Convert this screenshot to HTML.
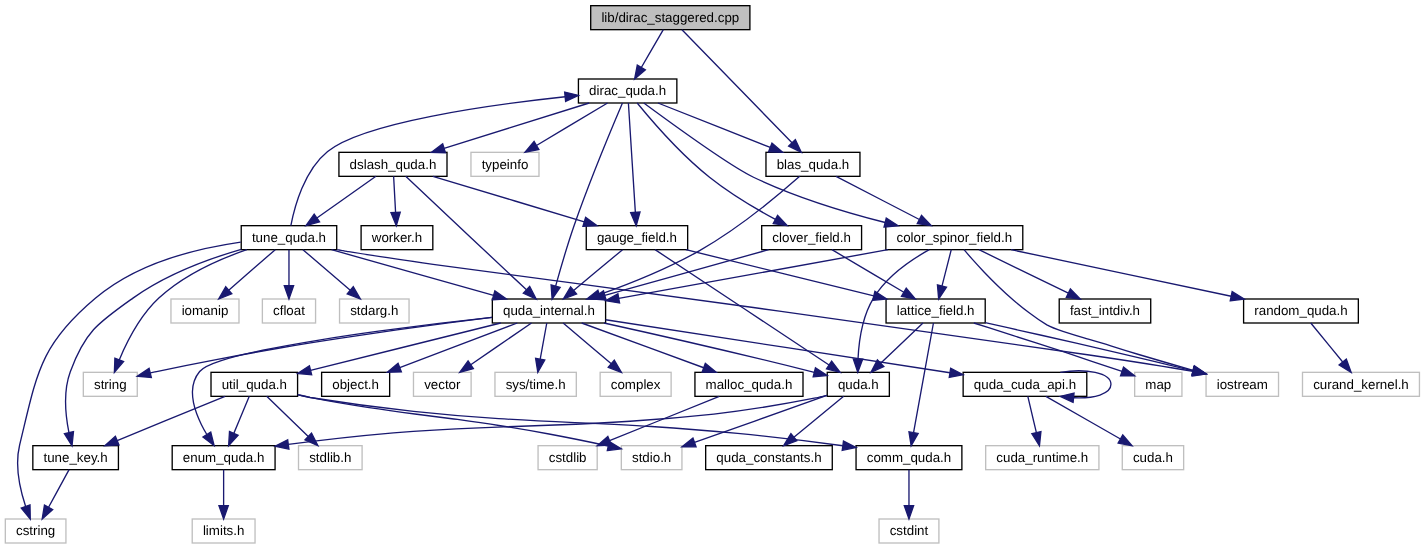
<!DOCTYPE html>
<html lang="en">
<head>
<meta charset="utf-8">
<title>lib/dirac_staggered.cpp include dependency graph</title>
<style>
html,body{margin:0;padding:0;background:#fff;}
body{width:1425px;height:549px;overflow:hidden;}
svg{display:block;will-change:transform;}
.n{stroke-width:1.3333;}
.e{fill:none;stroke:#191970;stroke-width:1.3333;}
.a{fill:#191970;stroke:#191970;stroke-width:1.3333;}
text{text-rendering:geometricPrecision;font-family:"Liberation Sans",sans-serif;font-size:13.333px;fill:#000;text-anchor:middle;}
</style>
</head>
<body>
<svg width="1425" height="549" viewBox="0 0 1425 549">
<rect x="0" y="0" width="1425" height="549" fill="#ffffff"/>
<g><rect class="n" x="590.7" y="5.67" width="159.2" height="24" fill="#bfbfbf" stroke="#000000"/><text x="670.3" y="22">lib/dirac_staggered.cpp</text></g>
<g><rect class="n" x="578.42" y="79" width="98.43" height="24" fill="white" stroke="#000000"/><text x="627.63" y="95">dirac_quda.h</text></g>
<g><path class="e" d="M663.32,29.67C657.37,39.88 648.66,54.86 641.32,67.48"/><polygon class="a" points="637.29,65.13 634.61,79 645.36,69.82"/></g>
<g><rect class="n" x="765.97" y="152.33" width="93.99" height="24" fill="white" stroke="#000000"/><text x="812.97" y="169">blas_quda.h</text></g>
<g><path class="e" d="M681.97,29.67C706.05,54.41 761.53,111.45 791.99,142.77"/><polygon class="a" points="788.65,146.03 801.29,152.33 795.34,139.52"/></g>
<g><rect class="n" x="492.34" y="299" width="113.26" height="24" fill="white" stroke="#000000"/><text x="548.97" y="315">quda_internal.h</text></g>
<g><path class="e" d="M622.47,103C612.49,126.41 590.16,179.68 574.3,225 567.28,245.21 560.44,268.81 555.63,286.13"/><polygon class="a" points="551.12,284.91 552.12,299 560.13,287.36"/></g>
<g><rect class="n" x="885.82" y="225.67" width="136.96" height="24" fill="white" stroke="#000000"/><text x="954.3" y="242">color_spinor_field.h</text></g>
<g><path class="e" d="M643.79,103C672.34,124.03 730.83,166.36 753.52,177.23 795.48,197.33 845.53,212.41 885.16,222.48"/><polygon class="a" points="884.04,227.01 898.11,225.67 886.27,217.95"/></g>
<g><rect class="n" x="586.26" y="225.67" width="101.4" height="24" fill="white" stroke="#000000"/><text x="636.97" y="242">gauge_field.h</text></g>
<g><path class="e" d="M628.4,103C629.91,126.8 633.32,180.42 635.36,212.36"/><polygon class="a" points="630.7,212.66 636.21,225.67 640.02,212.06"/></g>
<g><rect class="n" x="761.69" y="225.67" width="99.89" height="24" fill="white" stroke="#000000"/><text x="811.63" y="242">clover_field.h</text></g>
<g><path class="e" d="M637.18,103C651.63,120.66 680.44,154.04 709.52,177.23 729.95,193.53 755.15,208.48 775.42,219.45"/><polygon class="a" points="773.24,223.58 787.21,225.67 777.59,215.32"/></g>
<g><rect class="n" x="338.93" y="152.33" width="108.07" height="24" fill="white" stroke="#000000"/><text x="392.97" y="169">dslash_quda.h</text></g>
<g><path class="e" d="M589.23,103C549.66,115.36 487.76,134.7 444.08,148.36"/><polygon class="a" points="442.69,143.9 431.36,152.33 445.47,152.81"/></g>
<g><path class="e" d="M657.96,103C688.51,115.08 735.91,133.85 770.26,147.43"/><polygon class="a" points="768.54,151.77 782.65,152.33 771.97,143.09"/></g>
<g><rect class="n" x="470.95" y="152.33" width="68.03" height="24" fill="white" stroke="#bfbfbf"/><text x="504.97" y="169">typeinfo</text></g>
<g><path class="e" d="M607.56,103C588.29,114.52 558.87,132.11 536.47,145.5"/><polygon class="a" points="534.08,141.49 525.02,152.33 538.87,149.51"/></g>
<g><rect class="n" x="963.14" y="372.33" width="123.65" height="24" fill="white" stroke="#000000"/><text x="1024.97" y="389">quda_cuda_api.h</text></g>
<g><path class="e" d="M605.6,319.73C691.35,332.94 854.36,358.05 949.96,372.77"/><polygon class="a" points="949.25,377.39 963.14,374.79 950.67,368.16"/></g>
<g><rect class="n" x="494.96" y="372.33" width="81.35" height="24" fill="white" stroke="#bfbfbf"/><text x="535.63" y="389">sys/time.h</text></g>
<g><path class="e" d="M546.79,323C545,332.79 542.43,346.96 540.2,359.21"/><polygon class="a" points="535.61,358.38 537.82,372.33 544.79,360.05"/></g>
<g><rect class="n" x="83.33" y="372.33" width="53.94" height="24" fill="white" stroke="#bfbfbf"/><text x="110.3" y="389">string</text></g>
<g><path class="e" d="M491.96,317.41C479.15,318.97 464.56,320.8 448.59,322.86 432.63,324.96 415.28,327.35 396.95,329.96 378.62,332.57 359.31,335.41 339.42,338.45 319.52,341.49 299.05,344.73 278.39,348.25 257.73,351.83 236.88,355.61 216.25,359.54 195.62,363.46 175.21,367.55 155.4,371.78 155.12,371.83 154.84,371.89 154.55,371.96 154.27,372.02 153.98,372.08 153.7,372.14 153.41,372.21 153.13,372.27 152.84,372.33 152.55,372.4 152.27,372.46 151.98,372.53 151.69,372.59 151.4,372.66 151.11,372.72 150.82,372.79 150.5,372.86 150.21,372.93"/><polygon class="a" points="149.09,368.4 137.27,376.14 151.33,377.46"/></g>
<g><rect class="n" x="600.14" y="372.33" width="70.98" height="24" fill="white" stroke="#bfbfbf"/><text x="635.63" y="389">complex</text></g>
<g><path class="e" d="M563.14,323C576.17,334.02 595.75,350.58 611.27,363.72"/><polygon class="a" points="608.26,367.28 621.45,372.33 614.29,360.16"/></g>
<g><rect class="n" x="172.19" y="445.67" width="102.88" height="24" fill="white" stroke="#000000"/><text x="223.63" y="462">enum_quda.h</text></g>
<g><path class="e" d="M492.06,317.36C476.37,319.05 458.31,321.06 439.01,323.36 419.72,325.7 399.18,328.32 378.56,331.16 357.93,334 337.22,337.06 317.55,340.3 297.88,343.54 279.25,346.85 262.82,350.23 246.39,353.6 232.15,357.11 221.24,360.66 210.32,364.2 202.74,367.84 199.63,371.55 197.18,374.48 195.43,377.66 194.27,381.02 193.11,384.37 192.54,387.9 192.45,391.52 192.36,395.15 192.75,398.87 193.5,402.61 194.25,406.35 195.36,410.11 196.72,413.81 198.09,417.51 199.7,421.16 201.45,424.68 203.15,428.1 204.98,431.4 206.83,434.5"/><polygon class="a" points="202.93,437.06 214.13,445.67 210.74,431.95"/></g>
<g><rect class="n" x="827.24" y="372.33" width="62.11" height="24" fill="white" stroke="#000000"/><text x="858.3" y="389">quda.h</text></g>
<g><path class="e" d="M604.01,323C655.24,334.32 734.95,352.39 814.32,372.33"/><polygon class="a" points="813.17,376.85 827.24,375.6 815.46,367.8"/></g>
<g><rect class="n" x="211.01" y="372.33" width="86.57" height="24" fill="white" stroke="#000000"/><text x="254.3" y="389">util_quda.h</text></g>
<g><path class="e" d="M500.74,323C448.87,335.91 365.6,356.63 310.53,370.34"/><polygon class="a" points="309.41,365.81 297.59,373.55 311.66,374.87"/></g>
<g><rect class="n" x="694.94" y="372.33" width="108.06" height="24" fill="white" stroke="#000000"/><text x="748.97" y="389">malloc_quda.h</text></g>
<g><path class="e" d="M581.69,323C614.91,335.18 666.6,354.14 703.73,367.75"/><polygon class="a" points="702.12,372.13 716.25,372.33 705.33,363.36"/></g>
<g><rect class="n" x="321.62" y="372.33" width="68.03" height="24" fill="white" stroke="#000000"/><text x="355.63" y="389">object.h</text></g>
<g><path class="e" d="M517.33,323C485.33,335.14 435.59,354 399.73,367.61"/><polygon class="a" points="398.08,363.25 387.26,372.33 401.38,371.98"/></g>
<g><rect class="n" x="413.48" y="372.33" width="57.64" height="24" fill="white" stroke="#bfbfbf"/><text x="442.3" y="389">vector</text></g>
<g><path class="e" d="M531.51,323C515.05,334.32 490.07,351.48 470.73,364.78"/><polygon class="a" points="468.09,360.94 459.74,372.33 473.37,368.63"/></g>
<g><path class="e" d="M1060.3,372.29C1085.69,368.36 1110.97,372.39 1110.97,384.33 1110.97,394.13 1093.95,398.6 1073.83,397.72"/><polygon class="a" points="1073.11,402.35 1060.3,396.37 1074.03,393.05"/></g>
<g><rect class="n" x="1122.28" y="445.67" width="61.37" height="24" fill="white" stroke="#bfbfbf"/><text x="1152.97" y="462">cuda.h</text></g>
<g><path class="e" d="M1045.91,396.33C1066.14,407.91 1097.04,425.62 1120.46,439.04"/><polygon class="a" points="1118.14,443.08 1132.03,445.67 1122.78,434.99"/></g>
<g><rect class="n" x="985.68" y="445.67" width="113.24" height="24" fill="white" stroke="#bfbfbf"/><text x="1042.3" y="462">cuda_runtime.h</text></g>
<g><path class="e" d="M1027.83,396.33C1030.14,406.16 1033.49,420.4 1036.39,432.69"/><polygon class="a" points="1031.85,433.76 1039.45,445.67 1040.93,431.62"/></g>
<g><rect class="n" x="192.22" y="519" width="62.82" height="24" fill="white" stroke="#bfbfbf"/><text x="223.63" y="535">limits.h</text></g>
<g><path class="e" d="M223.63,469.67C223.63,479.39 223.63,493.47 223.63,505.67"/><polygon class="a" points="218.97,505.67 223.63,519 228.3,505.67"/></g>
<g><path class="e" d="M826.74,395.39C826.12,395.55 825.5,395.71 824.88,395.87 824.26,396.02 823.63,396.17 823.01,396.33 822.39,396.48 821.77,396.62 821.15,396.77 820.53,396.91 819.91,397.05 819.3,397.19 818.68,397.32 818.07,397.46 817.46,397.58 816.85,397.71 816.24,397.84 815.63,397.96 777.68,405.47 744.26,410.56 713.84,414.17 683.42,417.47 655.99,419.65 630.01,421.23 604.02,422.95 579.49,424.07 554.86,425.04 530.22,426.02 505.49,426.75 479.11,427.82 452.74,428.89 424.72,430.32 393.51,432.86 362.3,435.54 327.42,439.26 288.29,444.43"/><polygon class="a" points="287.67,439.8 275.08,446.2 288.91,449.05"/></g>
<g><rect class="n" x="621.32" y="445.67" width="60.62" height="24" fill="white" stroke="#bfbfbf"/><text x="651.63" y="462">stdio.h</text></g>
<g><path class="e" d="M826.89,395.47C791.76,407.94 733.95,428.45 694.52,442.45"/><polygon class="a" points="692.96,438.05 681.95,446.91 696.08,446.85"/></g>
<g><rect class="n" x="705.67" y="445.67" width="126.6" height="24" fill="white" stroke="#000000"/><text x="768.97" y="462">quda_constants.h</text></g>
<g><path class="e" d="M843.67,396.33C830.19,407.4 809.92,424.04 793.9,437.2"/><polygon class="a" points="790.93,433.59 783.6,445.67 796.86,440.81"/></g>
<g><path class="e" d="M249.29,396.33C245.1,406.35 239,420.93 233.8,433.37"/><polygon class="a" points="229.5,431.56 228.65,445.67 238.11,435.17"/></g>
<g><path class="e" d="M297.59,394.55C298.26,394.7 298.94,394.86 299.61,395.02 300.32,395.19 301.03,395.36 301.73,395.52 302.44,395.69 303.14,395.86 303.84,396.02 304.54,396.19 305.24,396.35 305.94,396.51 306.63,396.67 307.33,396.83 308.02,396.99 308.7,397.15 309.39,397.31 310.07,397.47 331.45,401.79 350.3,404.82 367.47,407.39 384.65,409.96 400.16,412.06 414.86,413.97 429.57,415.88 443.48,417.6 457.45,419.46 471.42,421.38 485.46,423.38 500.43,425.72 515.4,428.05 531.31,430.73 549.02,434.02 566.7,437.31 586.17,441.21 608.3,446"/><polygon class="a" points="607.3,450.56 621.32,448.86 609.3,441.44"/></g>
<g><rect class="n" x="298.51" y="445.67" width="63.58" height="24" fill="white" stroke="#bfbfbf"/><text x="330.3" y="462">stdlib.h</text></g>
<g><path class="e" d="M266.72,396.33C277.97,407.17 294.77,423.39 308.28,436.41"/><polygon class="a" points="305.04,439.77 317.88,445.67 311.52,433.05"/></g>
<g><rect class="n" x="856.05" y="445.67" width="105.83" height="24" fill="white" stroke="#000000"/><text x="908.97" y="462">comm_quda.h</text></g>
<g><path class="e" d="M298.04,394.96C298.72,395.11 299.39,395.26 300.07,395.41 300.75,395.56 301.42,395.7 302.1,395.85 302.77,395.99 303.44,396.13 304.11,396.27 304.78,396.41 305.45,396.55 306.12,396.69 306.78,396.82 307.44,396.95 308.1,397.08 308.76,397.21 309.42,397.34 310.07,397.47 348.7,403.68 382.69,407.99 413.6,411.32 444.51,414.66 472.35,416.9 498.68,418.6 525.02,420.31 549.85,421.46 574.75,422.56 599.66,423.66 624.63,424.76 651.25,426.49 677.86,428.22 706.12,430.38 737.6,433.44 768.97,436.49 803.53,440.43 842.85,445.73"/><polygon class="a" points="842.21,450.35 856.05,447.55 843.48,441.1"/></g>
<g><rect class="n" x="32.84" y="445.67" width="85.58" height="24" fill="white" stroke="#000000"/><text x="75.63" y="462">tune_key.h</text></g>
<g><path class="e" d="M225.07,396.33C195.72,408.37 150.26,427.03 117.19,440.61"/><polygon class="a" points="115.42,436.29 104.85,445.67 118.96,444.93"/></g>
<g><rect class="n" x="879.03" y="519" width="59.87" height="24" fill="white" stroke="#bfbfbf"/><text x="908.97" y="535">cstdint</text></g>
<g><path class="e" d="M908.97,469.67C908.97,479.39 908.97,493.47 908.97,505.67"/><polygon class="a" points="904.3,505.67 908.97,519 913.63,505.67"/></g>
<g><rect class="n" x="5.33" y="519" width="60.6" height="24" fill="white" stroke="#bfbfbf"/><text x="35.63" y="535">cstring</text></g>
<g><path class="e" d="M69.08,469.67C63.55,479.83 55.42,494.72 48.56,507.29"/><polygon class="a" points="44.46,505.06 42.18,519 52.66,509.52"/></g>
<g><rect class="n" x="538.07" y="445.67" width="59.13" height="24" fill="white" stroke="#bfbfbf"/><text x="567.63" y="462">cstdlib</text></g>
<g><path class="e" d="M719.28,396.33C689.44,408.4 643.15,427.13 609.56,440.72"/><polygon class="a" points="607.81,436.39 597.2,445.71 611.31,445.04"/></g>
<g><path class="e" d="M888,249.67C814,263.06 694.28,284.71 618.73,298.38"/><polygon class="a" points="617.9,293.78 605.61,300.75 619.56,302.97"/></g>
<g><path class="e" d="M929.31,249.67C910.89,259.87 886.84,276.33 873.52,298.1 862.36,316.34 858.88,340.79 858.01,359"/><polygon class="a" points="853.34,358.93 857.8,372.33 862.68,359.07"/></g>
<g><rect class="n" x="1206.07" y="372.33" width="72.46" height="24" fill="white" stroke="#bfbfbf"/><text x="1242.3" y="389">iostream</text></g>
<g><path class="e" d="M964.01,249.67C966.43,252.54 969.26,255.82 972.44,259.39 975.9,263.28 979.78,267.52 984.01,271.94 988.24,276.36 992.81,281 997.66,285.7 1002.51,290.4 1007.63,295.13 1012.96,299.73 1018.29,304.34 1023.83,308.82 1029.5,313.02 1035.17,317.32 1040.98,321.34 1046.85,324.93 1051.01,327.23 1056.47,329.31 1062.92,331.41 1069.36,333.51 1076.78,335.83 1084.87,338.17 1092.95,340.5 1101.69,342.96 1110.77,345.88 1119.85,348.8 1129.27,351.7 1138.7,354.51 1148.13,357.33 1157.58,360.12 1166.72,362.76 1175.87,365.41 1185,367.99 1193.21,370.28"/><polygon class="a" points="1191.98,374.78 1206.07,373.81 1194.45,365.78"/></g>
<g><rect class="n" x="886.05" y="299" width="99.16" height="24" fill="white" stroke="#000000"/><text x="935.63" y="315">lattice_field.h</text></g>
<g><path class="e" d="M951.27,249.67C948.75,259.51 945.11,273.78 941.97,286.08"/><polygon class="a" points="937.45,284.93 938.67,299 946.49,287.23"/></g>
<g><rect class="n" x="1243.6" y="299" width="114.74" height="24" fill="white" stroke="#000000"/><text x="1300.97" y="315">random_quda.h</text></g>
<g><path class="e" d="M1011.03,249.67C1071.23,262.41 1166.44,282.54 1231.2,296.24"/><polygon class="a" points="1230.24,300.81 1244.25,299 1232.17,291.68"/></g>
<g><rect class="n" x="1059.22" y="299" width="91.5" height="24" fill="white" stroke="#000000"/><text x="1104.97" y="315">fast_intdiv.h</text></g>
<g><path class="e" d="M978.95,249.67C1003.23,261.48 1040.59,279.66 1068.34,293.17"/><polygon class="a" points="1066.3,297.37 1080.33,299 1070.38,288.97"/></g>
<g><path class="e" d="M922.98,323C911.52,333.86 894.38,350.12 880.63,363.16"/><polygon class="a" points="877.42,359.77 870.96,372.33 883.84,366.54"/></g>
<g><path class="e" d="M933.44,323C929.11,346.84 919.34,400.63 913.55,432.55"/><polygon class="a" points="908.95,431.71 911.15,445.67 918.14,433.39"/></g>
<g><path class="e" d="M985.21,322.63C992.82,324.35 1001.11,326.21 1010,328.21 1019.79,330.41 1030.29,332.77 1041.37,335.27 1052.45,337.76 1064.11,340.4 1076.21,343.14 1088.32,345.88 1100.86,348.74 1113.72,351.8 1126.57,354.85 1139.73,358 1153.07,361.19 1166.29,364.35 1179.68,367.57 1193.11,370.81"/><polygon class="a" points="1192.01,375.35 1206.07,373.93 1194.2,366.27"/></g>
<g><rect class="n" x="1134.66" y="372.33" width="47.27" height="24" fill="white" stroke="#bfbfbf"/><text x="1158.3" y="389">map</text></g>
<g><path class="e" d="M973.84,323C978.68,324.55 983.88,326.21 989.41,327.97 996.4,330.2 1003.92,332.61 1011.86,335.15 1019.79,337.7 1028.16,340.39 1036.88,343.2 1045.59,346 1054.64,348.93 1063.96,351.99 1073.28,355.09 1082.85,358.29 1092.6,361.56 1102.27,364.8 1112.11,368.11 1122.04,371.47"/><polygon class="a" points="1120.54,375.89 1134.66,375.74 1123.53,367.05"/></g>
<g><rect class="n" x="1302.49" y="372.33" width="116.95" height="24" fill="white" stroke="#bfbfbf"/><text x="1360.97" y="389">curand_kernel.h</text></g>
<g><path class="e" d="M1310.77,323C1319.41,333.55 1332.21,349.18 1342.72,362.01"/><polygon class="a" points="1339.1,364.97 1351.16,372.33 1346.33,359.06"/></g>
<g><path class="e" d="M622.57,249.67C609.31,260.71 589.38,277.31 573.6,290.46"/><polygon class="a" points="570.61,286.88 563.36,299 576.59,294.04"/></g>
<g><path class="e" d="M655.08,249.67C693.32,275.01 782.62,334.19 829.08,364.97"/><polygon class="a" points="826.5,368.86 840.19,372.33 831.65,361.08"/></g>
<g><path class="e" d="M685.84,249.67C737.18,262.27 818.07,282.13 873.82,295.82"/><polygon class="a" points="872.71,300.35 886.77,299 874.93,291.29"/></g>
<g><path class="e" d="M768.67,249.67C723.95,262.15 653.74,281.74 604.77,295.41"/><polygon class="a" points="603.51,290.92 591.93,299 606.02,299.91"/></g>
<g><path class="e" d="M831.94,249.67C851.44,261.2 881.22,278.82 903.86,292.22"/><polygon class="a" points="901.49,296.24 915.34,299 906.23,288.2"/></g>
<g><path class="e" d="M405.72,176.33C432.17,201.2 493.27,258.64 526.49,289.86"/><polygon class="a" points="523.29,293.26 536.2,299 529.68,286.46"/></g>
<g><path class="e" d="M432.89,176.33C474.17,188.74 538.83,208.17 584.28,221.83"/><polygon class="a" points="582.94,226.3 597.05,225.67 585.63,217.36"/></g>
<g><rect class="n" x="241.23" y="225.67" width="95.48" height="24" fill="white" stroke="#000000"/><text x="288.97" y="242">tune_quda.h</text></g>
<g><path class="e" d="M375.94,176.33C359.94,187.62 335.7,204.7 316.88,217.99"/><polygon class="a" points="314.19,214.17 305.98,225.67 319.57,221.8"/></g>
<g><rect class="n" x="361.1" y="225.67" width="71.72" height="24" fill="white" stroke="#000000"/><text x="396.97" y="242">worker.h</text></g>
<g><path class="e" d="M393.62,176.33C394.16,186.06 394.92,200.16 395.58,212.35"/><polygon class="a" points="390.92,212.61 396.31,225.67 400.24,212.1"/></g>
<g><path class="e" d="M290.86,225.67C294.47,206.76 304.23,170.27 327.63,151.43 363.69,122.41 488.32,104.98 565.14,96.75"/><polygon class="a" points="565.63,101.39 578.41,95.37 564.66,92.11"/></g>
<g><path class="e" d="M331.52,249.67C375.74,262.14 445.14,281.72 493.6,295.38"/><polygon class="a" points="492.34,299.87 506.44,299 494.87,290.89"/></g>
<g><path class="e" d="M246.83,249.67C219.29,259.21 183.91,274.85 158.85,298.1 140.49,315.14 127.22,340.97 119.24,359.92"/><polygon class="a" points="114.89,358.22 114.38,372.33 123.58,361.62"/></g>
<g><path class="e" d="M241.23,249.31C208.7,258.82 165.76,274.57 132.97,298.1 97.91,323.01 85.14,331.44 70.3,371.67 63.17,391.12 65.42,415.04 68.94,432.69"/><polygon class="a" points="64.4,433.76 72,445.67 73.48,431.62"/></g>
<g><path class="e" d="M240.71,242.07C198.29,248.22 137.02,262.94 95.63,298.1 39.26,345.36 37.02,373.67 19.63,445 14.69,465.42 19.88,489.16 25.64,506.5"/><polygon class="a" points="21.26,508.12 30.27,519 30.01,504.87"/></g>
<g><path class="e" d="M337.2,249.68C337.85,249.8 338.5,249.92 339.15,250.03 339.8,250.15 340.45,250.26 341.09,250.37 341.74,250.49 342.38,250.6 343.03,250.71 343.67,250.82 344.31,250.93 344.95,251.04 345.59,251.15 346.22,251.26 346.85,251.37 347.48,251.47 348.11,251.58 348.74,251.69 363.79,254.21 393.46,258.61 433.1,264.3 472.74,270 522.35,276.55 577.26,283.58 632.18,290.7 692.41,298.94 753.29,307.5 814.17,316.07 875.71,324.74 933.26,332.93 990.8,341.09 1044.34,348.77 1089.23,354.98 1133.9,361.6 1170.01,367.33 1192.96,371.4"/><polygon class="a" points="1192.11,375.99 1206.07,373.81 1193.8,366.81"/></g>
<g><rect class="n" x="170.95" y="299" width="68.03" height="24" fill="white" stroke="#bfbfbf"/><text x="204.97" y="315">iomanip</text></g>
<g><path class="e" d="M275.24,249.67C262.66,260.65 243.76,277.12 228.73,290.23"/><polygon class="a" points="225.67,286.72 218.69,299 231.8,293.75"/></g>
<g><rect class="n" x="262.37" y="299" width="53.2" height="24" fill="white" stroke="#bfbfbf"/><text x="288.97" y="315">cfloat</text></g>
<g><path class="e" d="M288.97,249.67C288.97,259.39 288.97,273.47 288.97,285.67"/><polygon class="a" points="284.3,285.67 288.97,299 293.63,285.67"/></g>
<g><rect class="n" x="339.54" y="299" width="69.51" height="24" fill="white" stroke="#bfbfbf"/><text x="374.3" y="315">stdarg.h</text></g>
<g><path class="e" d="M302.93,249.67C315.73,260.67 334.96,277.19 350.23,290.31"/><polygon class="a" points="347.19,293.85 360.35,299 353.27,286.77"/></g>
<g><path class="e" d="M799.71,176.33C779.33,194.3 738.61,228.44 699.63,250.57 667.73,268.68 629.4,283.97 599.39,294.64"/><polygon class="a" points="597.87,290.23 586.79,299 600.92,299.05"/></g>
<g><path class="e" d="M836.07,176.33C858.68,188.06 893.39,206.07 919.37,219.53"/><polygon class="a" points="917.22,223.67 931.21,225.67 921.52,215.39"/></g>
</svg>
</body>
</html>
